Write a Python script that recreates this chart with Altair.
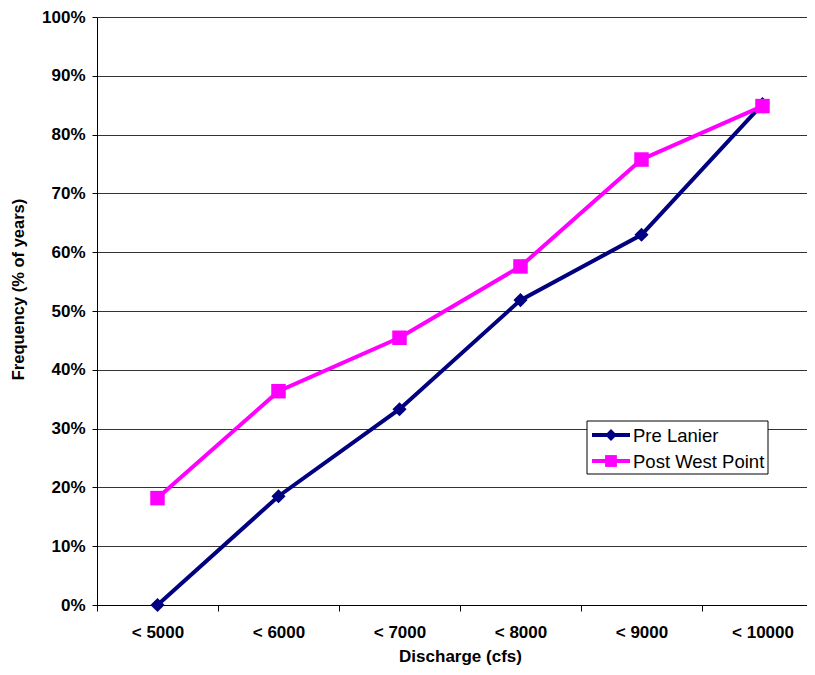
import altair as alt
import pandas as pd

categories = ["< 5000", "< 6000", "< 7000", "< 8000", "< 9000", "< 10000"]
series_names = ["Pre Lanier", "Post West Point"]
pre_lanier = [0.0, 0.185, 0.333, 0.5185, 0.6296, 0.8519]
post_west_point = [0.1818, 0.3636, 0.4545, 0.5758, 0.7576, 0.8485]
colors = ["#000080", "#FF00FF"]
shapes = ["diamond", "square"]
y_ticks = [i / 10 for i in range(11)]

rows = []
for c, v in zip(categories, pre_lanier):
    rows.append({"cat": c, "val": v, "series": series_names[0]})
for c, v in zip(categories, post_west_point):
    rows.append({"cat": c, "val": v, "series": series_names[1]})
df = pd.DataFrame(rows)

FONT = "Liberation Sans"
W, H = 710, 588

x_enc = alt.X(
    "cat:N",
    sort=categories,
    bandPosition=0.5,
    scale=alt.Scale(type="band", domain=categories, range=[0, 726], paddingInner=0, paddingOuter=0),
    axis=alt.Axis(
        title="Discharge (cfs)",
        labelAngle=0,
        tickBand="extent",
        tickSize=6,
        tickColor="#000000",
        domainColor="#000000",
        labelPadding=13,
        labelFont=FONT,
        labelFontSize=17,
        labelFontWeight="bold",
        labelColor="#000000",
        titleFont=FONT,
        titleFontSize=17,
        titleFontWeight="bold",
        titleColor="#000000",
        titleX=363,
        titleY=56,
        titleBaseline="alphabetic",
        grid=False,
    ),
)
y_enc = alt.Y(
    "val:Q",
    scale=alt.Scale(domain=[0, 1], nice=False, zero=True),
    axis=alt.Axis(
        title="Frequency (% of years)",
        values=y_ticks,
        format=".0%",
        tickSize=5,
        tickColor="#000000",
        domainColor="#000000",
        labelPadding=7,
        labelFont=FONT,
        labelFontSize=17,
        labelFontWeight="bold",
        labelColor="#000000",
        titleFont=FONT,
        titleFontSize=16.5,
        titleFontWeight="bold",
        titleColor="#000000",
        titlePadding=15,
        titleY=272,
        grid=True,
        gridColor="#333333",
        gridWidth=1,
    ),
)
color_enc = alt.Color(
    "series:N",
    scale=alt.Scale(domain=series_names, range=colors),
    legend=None,
)

lines = alt.Chart(df).mark_line(strokeWidth=4).encode(x=x_enc, y=y_enc, color=color_enc, detail="series:N")
points = alt.Chart(df).mark_point(filled=True, opacity=1).encode(
    x=x_enc,
    y=y_enc,
    color=color_enc,
    shape=alt.Shape("series:N", scale=alt.Scale(domain=series_names, range=shapes), legend=None),
    size=alt.Size("series:N", scale=alt.Scale(domain=series_names, range=[200, 210]), legend=None),
)

one = pd.DataFrame({"k": [0]})
legend_box = alt.Chart(one).mark_rect(fill="white", stroke="#000000", strokeWidth=1).encode(
    x=alt.value(490), x2=alt.value(671), y=alt.value(404), y2=alt.value(457)
)
legend_layers = [legend_box]
for i, (name, col, shp) in enumerate(zip(series_names, colors, shapes)):
    yy = 418 + 26 * i
    legend_layers.append(
        alt.Chart(one).mark_rule(color=col, strokeWidth=4).encode(
            x=alt.value(495), x2=alt.value(533), y=alt.value(yy)
        )
    )
    legend_layers.append(
        alt.Chart(one).mark_point(filled=True, opacity=1, color=col, shape=shp, size=140).encode(
            x=alt.value(514), y=alt.value(yy)
        )
    )
    legend_layers.append(
        alt.Chart(one).mark_text(
            align="left", baseline="middle", font=FONT, fontSize=18.5, color="#000000"
        ).encode(x=alt.value(536), y=alt.value(yy + 1), text=alt.value(name))
    )

chart = alt.layer(lines, points, *legend_layers).properties(
    width=W,
    height=H,
    autosize=alt.AutoSizeParams(type="none"),
    padding={"left": 89, "top": 9, "right": 0, "bottom": 60},
).configure_view(stroke=None).configure(background="white")

chart.save("out.html", embed_options={"renderer": "svg", "actions": False})
